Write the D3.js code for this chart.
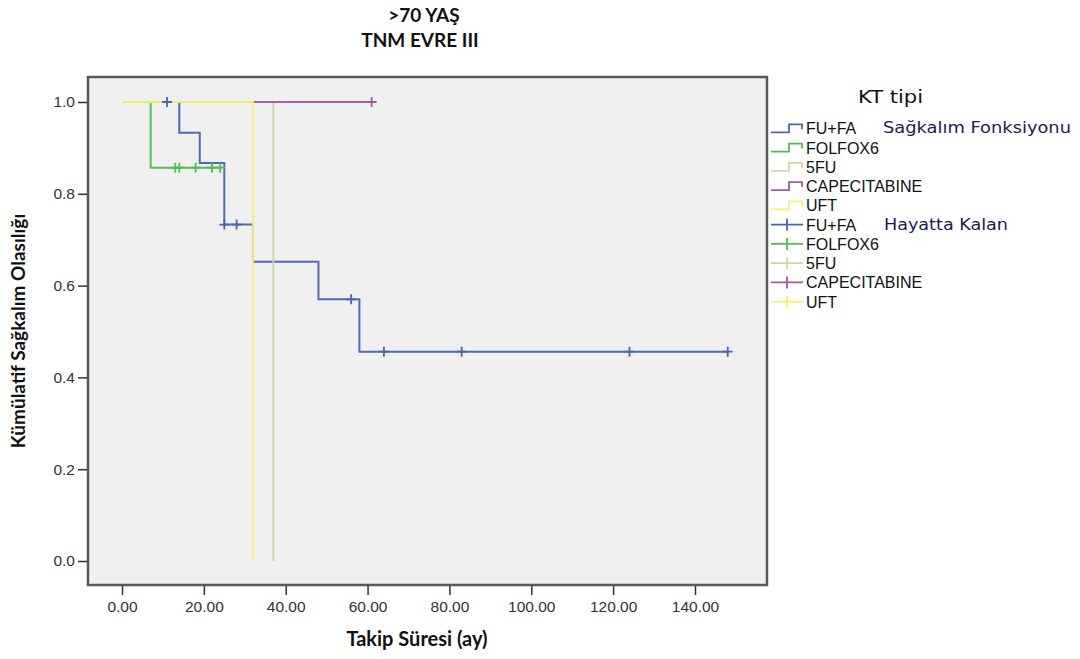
<!DOCTYPE html>
<html>
<head>
<meta charset="utf-8">
<script src="https://cdn.jsdelivr.net/npm/d3@7/dist/d3.min.js"></script>
<style>
  body { margin: 0; background: #fff; }
  svg { display: block; }
</style>
</head>
<body>
<svg width="1080" height="659"></svg>
<script>
// KM groups
const groups = ["FU+FA", "FOLFOX6", "5FU", "CAPECITABINE", "UFT"];
const colors = ["#4a62b6", "#4cbf4f", "#d8d2a4", "#9e5ba2", "#f4ef78"];

// step points (time, survival) per group
const fuTimes = [0, 14, 19, 25, 32, 48, 58, 148];
const fuSurv = [1, 0.933, 0.867, 0.733, 0.652, 0.570, 0.456, 0.456];
const fuCens = [11, 25, 28, 56, 64, 83, 124, 148];

const folTimes = [0, 7, 24];
const folSurv = [1, 0.857, 0.857];
const folCens = [13, 14, 18, 22, 24];

const fiveTimes = [0, 37];
const fiveSurv = [1, 0];
const fiveCens = [];

const capTimes = [0, 61];
const capSurv = [1, 1];
const capCens = [61];

const uftTimes = [0, 32];
const uftSurv = [1, 0];
const uftCens = [];

const xTicks = [0, 20, 40, 60, 80, 100, 120, 140];
const yTicks = [0, 0.2, 0.4, 0.6, 0.8, 1.0];

const series = [
  [fuTimes, fuSurv, fuCens],
  [folTimes, folSurv, folCens],
  [fiveTimes, fiveSurv, fiveCens],
  [capTimes, capSurv, capCens],
  [uftTimes, uftSurv, uftCens]
];

let svg = d3.select("svg");

let pLeft = 88, pTop = 77, pRight = 767, pBottom = 585;

let xScale = d3.scaleLinear().domain([0, 140]).range([122, 695]);
let yScale = d3.scaleLinear().domain([0, 1]).range([561, 102]);

// frame
svg.append("rect")
    .attr("x", pLeft).attr("y", pTop)
    .attr("width", pRight - pLeft).attr("height", pBottom - pTop)
    .attr("fill", "#f0f0f0")
    .attr("stroke", "#585858")
    .attr("stroke-width", 2.5);

// axes
let xAxis = d3.axisBottom(xScale)
    .tickValues(xTicks)
    .tickFormat(d3.format(".2f"))
    .tickSize(9)
    .tickPadding(6);
let gx = svg.append("g")
    .attr("transform", "translate(0," + (pBottom + 1) + ")")
    .call(xAxis);

let yAxis = d3.axisLeft(yScale)
    .tickValues(yTicks)
    .tickFormat(d3.format(".1f"))
    .tickSize(9)
    .tickPadding(3);
let gy = svg.append("g")
    .attr("transform", "translate(" + (pLeft - 1) + ",0)")
    .call(yAxis);

[gx, gy].forEach(g => {
    g.select(".domain").remove();
    g.selectAll(".tick line").attr("stroke", "#333").attr("stroke-width", 1.5);
    g.selectAll(".tick text")
        .attr("fill", "#333")
        .style("font-family", "'Liberation Sans', Arial, sans-serif")
        .style("font-size", "15.5px");
});

// survival lines
let line = d3.line()
    .x(d => xScale(d[0]))
    .y(d => yScale(d[1]))
    .curve(d3.curveStepAfter);

series.forEach((s, i) => {
    let pts = s[0].map((t, j) => [t, s[1][j]]);
    svg.append("path")
        .attr("d", line(pts))
        .attr("fill", "none")
        .attr("stroke", colors[i])
        .attr("stroke-width", 2)
        .attr("opacity", 0.95);
});

// survival value at time t (after step)
let survAt = (s, t) => {
    let v = s[1][0];
    s[0].forEach((tt, j) => { if (tt <= t) v = s[1][j]; });
    return v;
};

// censor marks
series.forEach((s, i) => {
    s[2].forEach(t => {
        let cx = xScale(t), cy = yScale(survAt(s, t));
        svg.append("path")
            .attr("d", "M" + (cx - 5) + "," + cy + "H" + (cx + 5) + "M" + cx + "," + (cy - 5) + "V" + (cy + 5))
            .attr("stroke", colors[i])
            .attr("stroke-width", 1.8)
            .attr("fill", "none");
    });
});

// titles
let title = svg.append("g")
    .style("font-family", "Lato, 'Open Sans', sans-serif")
    .style("font-weight", "bold")
    .attr("fill", "#111")
    .attr("text-anchor", "middle");
title.append("text").attr("x", 424).attr("y", 22).style("font-size", "19px").text(">70 YAŞ");
title.append("text").attr("x", 420).attr("y", 47).style("font-size", "19px").text("TNM EVRE III");

svg.append("text")
    .attr("x", 417).attr("y", 646)
    .attr("text-anchor", "middle")
    .style("font-family", "Lato, 'Open Sans', sans-serif")
    .style("font-weight", "bold")
    .style("font-size", "20px")
    .attr("fill", "#111")
    .text("Takip Süresi (ay)");

svg.append("text")
    .attr("transform", "translate(25,331) rotate(-90)")
    .attr("text-anchor", "middle")
    .style("font-family", "Lato, 'Open Sans', sans-serif")
    .style("font-weight", "bold")
    .style("font-size", "19px")
    .attr("fill", "#111")
    .text("Kümülatif Sağkalım Olasılığı");

// legend
let legend = svg.append("g")
    .style("font-family", "'Liberation Sans', Arial, sans-serif")
    .attr("fill", "#111");

legend.append("text")
    .attr("x", 858).attr("y", 103)
    .style("font-family", "'DejaVu Sans', sans-serif")
    .style("font-size", "17px")
    .attr("textLength", 65)
    .attr("lengthAdjust", "spacingAndGlyphs")
    .text("KT  tipi");

let ly0 = 128.3, lstep = 19.27;
groups.forEach((g, i) => {
    let y = ly0 + i * lstep;
    legend.append("path")
        .attr("d", "M771," + (y + 4) + "H789V" + (y - 4) + "H802V" + (y + 1))
        .attr("fill", "none").attr("stroke", colors[i]).attr("stroke-width", 1.8);
    legend.append("text").attr("x", 806).attr("y", y + 6).style("font-size", "16px").text(g);
});
groups.forEach((g, i) => {
    let y = ly0 + (i + 5) * lstep;
    legend.append("path")
        .attr("d", "M771," + y + "H803M787," + (y - 6) + "V" + (y + 6))
        .attr("fill", "none").attr("stroke", colors[i]).attr("stroke-width", 1.8);
    legend.append("text").attr("x", 806).attr("y", y + 6).style("font-size", "16px").text(g);
});

legend.append("text")
    .attr("x", 883).attr("y", ly0 + 5)
    .style("font-family", "'DejaVu Sans', sans-serif")
    .style("font-size", "15px")
    .attr("fill", "#1c1c50")
    .attr("textLength", 188)
    .attr("lengthAdjust", "spacingAndGlyphs")
    .text("Sağkalım Fonksiyonu");
legend.append("text")
    .attr("x", 884).attr("y", ly0 + 5 * lstep + 5)
    .style("font-family", "'DejaVu Sans', sans-serif")
    .style("font-size", "15px")
    .attr("fill", "#1c1c50")
    .attr("textLength", 124)
    .attr("lengthAdjust", "spacingAndGlyphs")
    .text("Hayatta Kalan");
</script>
</body>
</html>
